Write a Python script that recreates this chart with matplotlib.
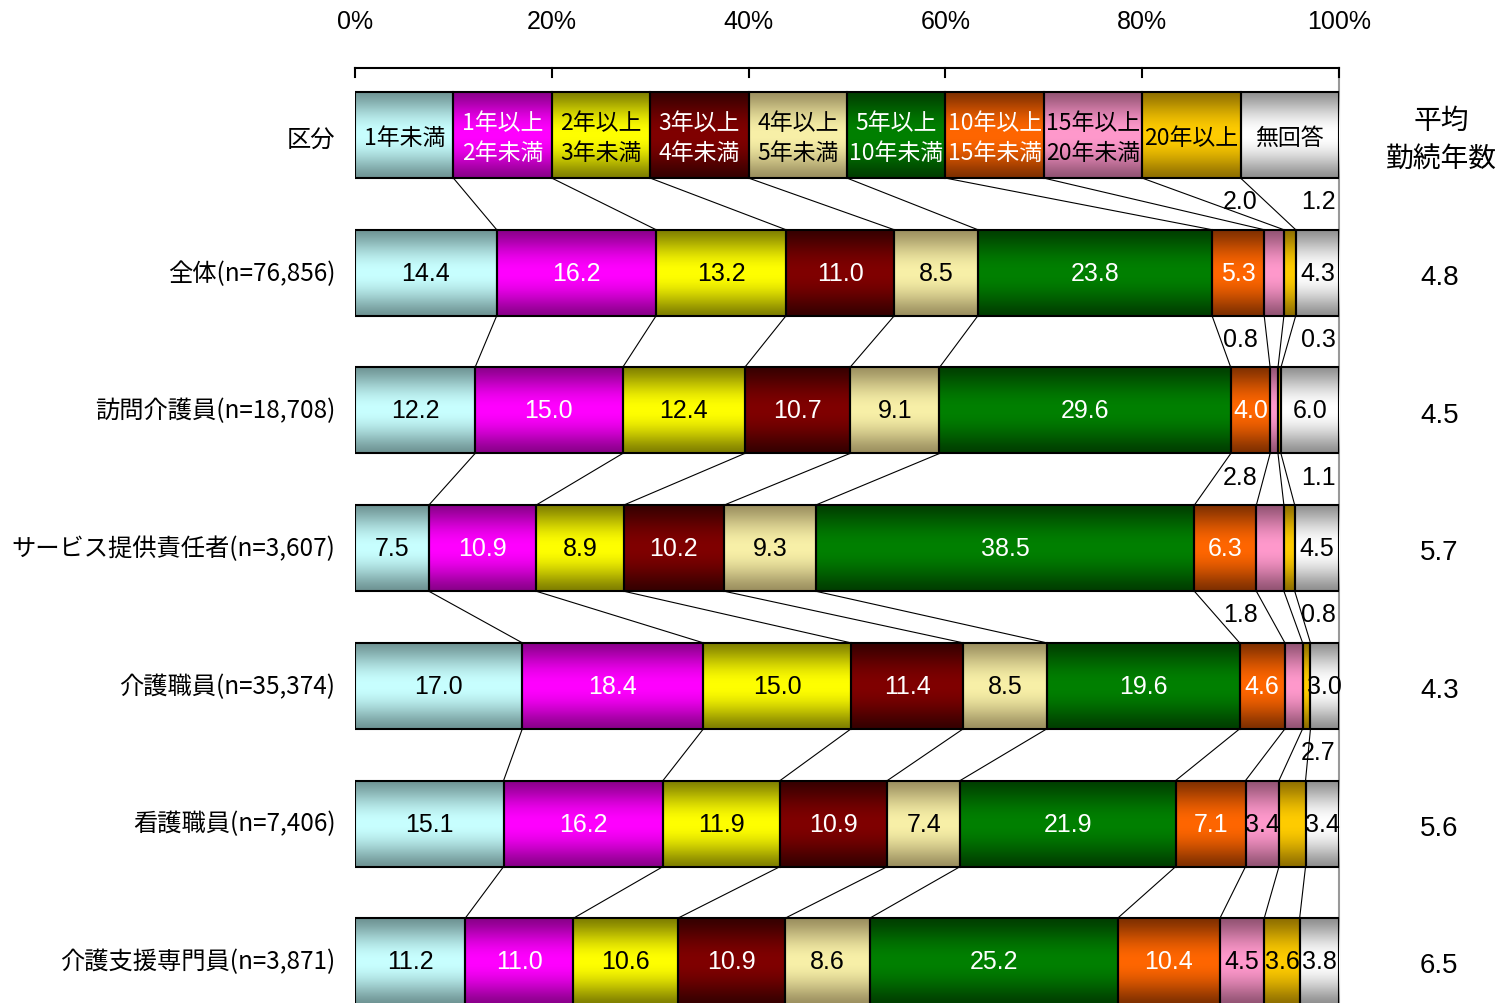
import matplotlib
matplotlib.use("Agg")
import matplotlib.pyplot as plt
import numpy as np
from matplotlib.patches import Rectangle

plt.rcParams['font.family'] = ['Noto Sans CJK JP', 'DejaVu Sans']

# ---- data ----
categories = ["1年未満", "1年以上\n2年未満", "2年以上\n3年未満", "3年以上\n4年未満",
              "4年以上\n5年未満", "5年以上\n10年未満", "10年以上\n15年未満",
              "15年以上\n20年未満", "20年以上", "無回答"]
groups = ["全体(n=76,856)", "訪問介護員(n=18,708)", "サービス提供責任者(n=3,607)",
          "介護職員(n=35,374)", "看護職員(n=7,406)", "介護支援専門員(n=3,871)"]
zentai = [14.4, 16.2, 13.2, 11.0, 8.5, 23.8, 5.3, 2.0, 1.2, 4.3]
houmon = [12.2, 15.0, 12.4, 10.7, 9.1, 29.6, 4.0, 0.8, 0.3, 6.0]
service = [7.5, 10.9, 8.9, 10.2, 9.3, 38.5, 6.3, 2.8, 1.1, 4.5]
kaigo = [17.0, 18.4, 15.0, 11.4, 8.5, 19.6, 4.6, 1.8, 0.8, 3.0]
kango = [15.1, 16.2, 11.9, 10.9, 7.4, 21.9, 7.1, 3.4, 2.7, 3.4]
shien = [11.2, 11.0, 10.6, 10.9, 8.6, 25.2, 10.4, 4.5, 3.6, 3.8]
avg_years = [4.8, 4.5, 5.7, 4.3, 5.6, 6.5]
ticks = [0, 20, 40, 60, 80, 100]

values = [zentai, houmon, service, kaigo, kango, shien]

# colours: (edge shade, centre shade)
seg_colors = [("#6f9494", "#c8ffff"), ("#8a008a", "#ff00ff"), ("#808000", "#ffff00"),
              ("#360000", "#800000"), ("#9c9060", "#f8f0a8"), ("#003e00", "#008000"),
              ("#803000", "#ff6600"), ("#935474", "#ff99cc"), ("#907000", "#ffcc00"),
              ("#909090", "#ffffff")]
head_txt = ["black", "white", "black", "white", "black", "white", "white",
            "black", "black", "black"]
val_txt = ["black", "white", "black", "white", "black", "white", "white",
           "black", "black", "black"]

fig = plt.figure(figsize=(14.99, 10.04), dpi=100)
ax = fig.add_axes([355 / 1499, 0, 984 / 1499, 1])
ax.set_axis_off()
ax.set_xlim(0, 100)
ax.set_ylim(6.303, -0.988)

h = 0.625
num_font = ['Liberation Sans Narrow', 'Liberation Sans', 'DejaVu Sans']


def grad_rect(x0, x1, yc, c_edge, c_mid):
    t = np.linspace(0, 1, 64)
    w = np.sin(np.pi * t) ** 1.3
    e = np.array(matplotlib.colors.to_rgb(c_edge))
    m = np.array(matplotlib.colors.to_rgb(c_mid))
    img = e[None, :] + (m - e)[None, :] * w[:, None]
    ax.imshow(img[:, None, :], extent=(x0, x1, yc + h / 2, yc - h / 2),
              aspect='auto', interpolation='bilinear', zorder=2)
    ax.add_patch(Rectangle((x0, yc - h / 2), x1 - x0, h, fill=False,
                           edgecolor='black', lw=1.5, zorder=3))


# axis on top
yax = -0.487
ax.plot([0, 100], [yax, yax], color='black', lw=1.5, clip_on=False)
for t in ticks:
    ax.plot([t, t], [yax, yax + 0.065], color='black', lw=1.5, clip_on=False)
    ax.text(t, -0.83, f"{t}%", ha='center', va='center', fontsize=18,
            family=num_font)
ax.plot([100, 100], [yax, 6.4], color='#999999', lw=1.5, zorder=1, clip_on=False)

# header row
bounds_head = np.arange(0, 101, 10)
for i, cat in enumerate(categories):
    grad_rect(bounds_head[i], bounds_head[i + 1], 0, *seg_colors[i])
    ax.text((bounds_head[i] + bounds_head[i + 1]) / 2, 0.02, cat, ha='center',
            va='center', fontsize=16.5, color=head_txt[i], linespacing=1.4,
            zorder=4)
ax.text(-2.0, 0.03, "区分", ha='right', va='center', fontsize=17.5)

prev = bounds_head
for r, vals in enumerate(values):
    yc = r + 1
    cum = np.concatenate([[0], np.cumsum(vals)])
    cum[-1] = 100
    # connectors from previous row
    for k in range(1, 10):
        ax.plot([prev[k], cum[k]], [yc - 1 + h / 2, yc - h / 2], color='black',
                lw=0.8, zorder=1)
    for i, v in enumerate(vals):
        grad_rect(cum[i], cum[i + 1], yc, *seg_colors[i])
        if v < 3:
            xpos = 90.0 if i == 7 else 97.9
            ax.text(xpos, yc - 0.52, f"{v:.1f}", ha='center', va='center',
                    fontsize=18, family=num_font, zorder=4)
        else:
            ax.text((cum[i] + cum[i + 1]) / 2, yc, f"{v:.1f}", ha='center',
                    va='center', fontsize=18, color=val_txt[i],
                    family=num_font, zorder=4)
    ax.text(-2.0, yc, groups[r], ha='right', va='center', fontsize=17.5,
            clip_on=False)
    ax.text(110.2, yc + 0.03, f"{avg_years[r]:.1f}", ha='center', va='center',
            fontsize=20, family=num_font, clip_on=False)
    prev = cum

ax.text(110.4, 0.03, "平均\n勤続年数", ha='center', va='center', fontsize=20,
        linespacing=1.4, clip_on=False)

fig.savefig("out.png", dpi=100)
